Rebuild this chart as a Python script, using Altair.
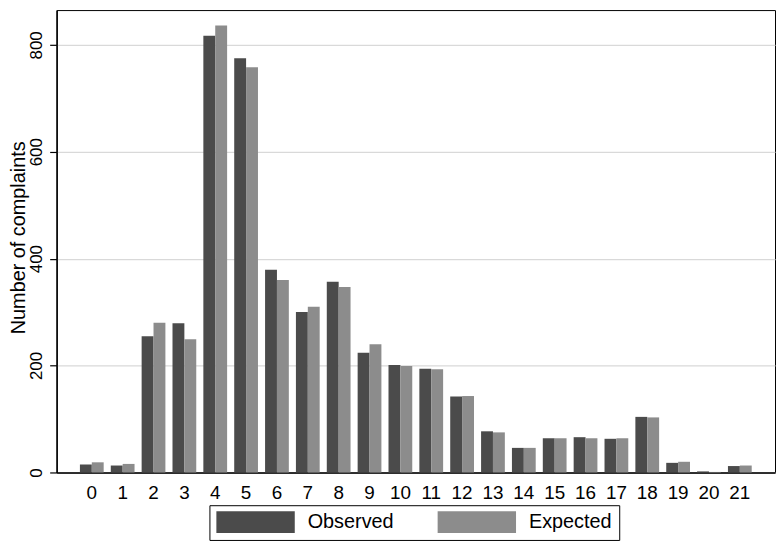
import altair as alt
import pandas as pd

categories = list(range(22))
observed = [15, 13, 255, 279, 817, 775, 379, 300, 357, 224, 201, 194, 142, 77, 46, 64, 66, 63, 104, 18, 2, 12]
expected = [19, 16, 280, 249, 836, 758, 360, 310, 347, 240, 199, 193, 143, 75, 46, 64, 64, 64, 103, 20, 1, 13]
series = ["Observed", "Expected"]
colors = ["#4b4b4b", "#8c8c8c"]
y_ticks = [0, 200, 400, 600, 800]

rows = []
for k, o, e in zip(categories, observed, expected):
    rows.append({"k": k, "series": "Observed", "n": o})
    rows.append({"k": k, "series": "Expected", "n": e})
df = pd.DataFrame(rows)

FONT = "Liberation Sans"

chart = alt.Chart(df).mark_bar().encode(
    x=alt.X(
        "k:O",
        scale=alt.Scale(paddingInner=0.23, paddingOuter=0.755),
        axis=alt.Axis(
            title=None, labelAngle=0, ticks=False, tickSize=0, labelPadding=11,
            labelFontSize=19, domainWidth=1.5, domainColor="black",
            labelColor="black", grid=False,
        ),
    ),
    xOffset=alt.XOffset("series:N", sort=series,
                        scale=alt.Scale(domain=series, paddingInner=0, paddingOuter=0)),
    y=alt.Y(
        "n:Q",
        scale=alt.Scale(domain=[0, 865], nice=False),
        axis=alt.Axis(
            title="Number of complaints", values=y_ticks,
            labelAngle=270, labelAlign="center", labelBaseline="alphabetic",
            labelPadding=8, tickSize=7, tickColor="black", tickWidth=1.2,
            labelFontSize=17, labelColor="black",
            domainWidth=1.5, domainColor="black",
            grid=True, gridColor="#d9d9d9", gridWidth=1.2,
            titleAngle=270, titleX=-32, titleY=229, titleAlign="center",
            titleBaseline="alphabetic", titleFontSize=20, titleFontWeight="normal",
            titleColor="black",
        ),
    ),
    color=alt.Color(
        "series:N", sort=series,
        scale=alt.Scale(domain=series, range=colors),
        legend=alt.Legend(
            title=None, orient="none", legendX=154, legendY=499,
            direction="horizontal",
            symbolType="M-1,-1.1L6.9,-1.1L6.9,1.1L-1,1.1Z", symbolSize=400,
            symbolStrokeWidth=0, symbolOpacity=1,
            labelOffset=72, labelFontSize=20, labelColor="black",
            columnPadding=44, padding=7, strokeColor="black",
        ),
    ),
).properties(
    width=724,
    height=466,
    autosize=alt.AutoSizeParams(type="none"),
    padding={"left": 49, "top": 0, "right": 1, "bottom": 71},
).configure(
    font=FONT,
).configure_view(
    stroke="black", strokeWidth=1,
)

chart.save("out.html", embed_options={"renderer": "svg", "actions": False})
